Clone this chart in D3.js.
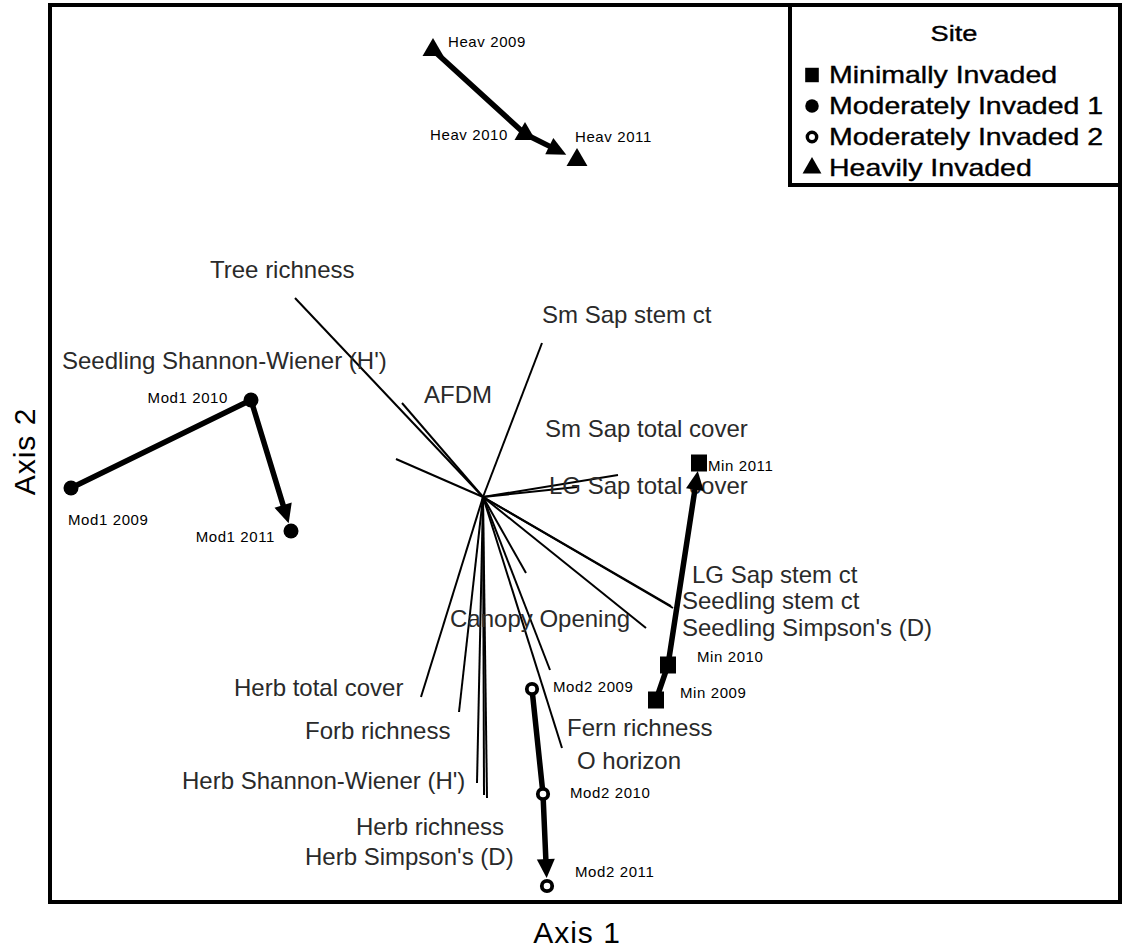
<!DOCTYPE html>
<html>
<head>
<meta charset="utf-8">
<script src="https://cdn.jsdelivr.net/npm/d3@7"></script>
<style>
  body { margin: 0; background: #fff; }
  svg { display: block; }
</style>
</head>
<body>
<svg id="chart" width="1125" height="952"></svg>
<script>
// ---- Site scores on the two ordination axes, one row per year ----
const years = [2009, 2010, 2011];
const siteNames = ["Minimally Invaded", "Moderately Invaded 1", "Moderately Invaded 2", "Heavily Invaded"];
const siteCodes = ["Min", "Mod1", "Mod2", "Heav"];
const minAxis1  = [0.865, 0.925, 1.08];
const minAxis2  = [-1.015, -0.84, 0.17];
const mod1Axis1 = [-2.06, -1.16, -0.96];
const mod1Axis2 = [0.045, 0.485, -0.17];
const mod2Axis1 = [0.245, 0.30, 0.32];
const mod2Axis2 = [-0.96, -1.485, -1.945];
const heavAxis1 = [-0.25, 0.21, 0.47];
const heavAxis2 = [2.235, 1.815, 1.685];

// ---- Environmental / vegetation vectors (biplot loadings) ----
const vectorNames = [
  "Tree richness", "Seedling Shannon-Wiener (H')", "AFDM", "Sm Sap stem ct",
  "Sm Sap total cover", "LG Sap total cover", "LG Sap stem ct", "Seedling stem ct",
  "Seedling Simpson's (D)", "Canopy Opening", "Herb total cover", "Forb richness",
  "Fern richness", "O horizon", "Herb Shannon-Wiener (H')", "Herb richness",
  "Herb Simpson's (D)"
];
const vectorAxis1 = [-0.94, -0.435, -0.405, 0.295, 0.675, 0.47, 0.95, 0.94,
                     0.815, 0.215, -0.31, -0.12, 0.335, 0.395, -0.03, 0.02, 0.005];
const vectorAxis2 = [0.995, 0.19, 0.47, 0.77, 0.11, 0.05, -0.555, -0.545,
                     -0.655, -0.38, -1.0, -1.075, -0.865, -1.255, -1.43, -1.505, -1.49];

// ---- Layout ----
const frame = { left: 50, top: 5, right: 1120, bottom: 902 };
const FONT = "'Liberation Sans', Arial, sans-serif";

// label placement relative to vector tip (px)
const vectorLabelOffset = [
  [-85, -20], [-334, -90], [22, 0], [0, -20], [-73, -38], [-28, 7], [19, -25], [11, 3],
  [36, 8], [-76, 54], [-187, -1], [-154, 27], [17, 66], [15, 21], [-295, 6], [-131, 37], [-179, 70]
];
// label placement relative to each site point (px) and anchor
const siteLabelOffset = {
  Min:  [[24, -2, "start"], [29, -3, "start"], [9, 8, "start"]],
  Mod1: [[-3, 37, "start"], [-23, 3, "end"], [-16, 11, "end"]],
  Mod2: [[21, 3, "start"], [27, 4, "start"], [28, -9, "start"]],
  Heav: [[15, -3, "start"], [-17, 6, "end"], [-2, -18, "start"]]
};

const svg = d3.select("#chart");

const x = d3.scaleLinear().domain([-2.165, 3.185]).range([frame.left, frame.right]);
const y = d3.scaleLinear().domain([-2.025, 2.46]).range([frame.bottom, frame.top]);

// ---- Vectors from the origin ----
const vectors = vectorNames.map((n, i) => ({ name: n, a1: vectorAxis1[i], a2: vectorAxis2[i], off: vectorLabelOffset[i] }));

const gv = svg.append("g");
gv.selectAll("line").data(vectors).join("line")
  .attr("x1", x(0)).attr("y1", y(0))
  .attr("x2", d => x(d.a1)).attr("y2", d => y(d.a2))
  .attr("stroke", "#000").attr("stroke-width", 2);

gv.selectAll("text").data(vectors).join("text")
  .attr("x", d => x(d.a1) + d.off[0])
  .attr("y", d => y(d.a2) + d.off[1])
  .attr("font-family", FONT).attr("font-size", 24)
  .attr("fill", "#2a2a2a")
  .text(d => d.name);

// ---- Site trajectories ----
const sites = [
  { code: "Min",  a1: minAxis1,  a2: minAxis2,  shape: "square" },
  { code: "Mod1", a1: mod1Axis1, a2: mod1Axis2, shape: "circle" },
  { code: "Mod2", a1: mod2Axis1, a2: mod2Axis2, shape: "ring" },
  { code: "Heav", a1: heavAxis1, a2: heavAxis2, shape: "triangle" }
];

function drawMarker(g, shape, cx, cy, s) {
  if (shape === "square") {
    g.append("rect").attr("x", cx - 8 * s).attr("y", cy - 8.5 * s)
      .attr("width", 16 * s).attr("height", 17 * s).attr("fill", "#000");
  } else if (shape === "circle") {
    g.append("circle").attr("cx", cx).attr("cy", cy).attr("r", 7.5 * s).attr("fill", "#000");
  } else if (shape === "ring") {
    g.append("circle").attr("cx", cx).attr("cy", cy).attr("r", 5.2 * s)
      .attr("fill", "#fff").attr("stroke", "#000").attr("stroke-width", 3.8 * s);
  } else {
    g.append("path").attr("transform", `translate(${cx},${cy})`)
      .attr("d", d3.symbol(d3.symbolTriangle, 190 * s * s)()).attr("fill", "#000");
  }
}

const gt = svg.append("g");
sites.forEach(site => {
  const pts = years.map((yr, i) => [x(site.a1[i]), y(site.a2[i])]);
  const gap = site.shape === "triangle" ? 12 : 8;
  const p1 = pts[1], p2 = pts[2];
  const dx = p2[0] - p1[0], dy = p2[1] - p1[1];
  const len = Math.hypot(dx, dy);
  const ux = dx / len, uy = dy / len, nx = -uy, ny = ux;
  const tip = [p2[0] - ux * gap, p2[1] - uy * gap];
  const headL = 19, headW = 9;
  const base = [tip[0] - ux * headL, tip[1] - uy * headL];

  gt.append("path")
    .attr("d", d3.line()([pts[0], pts[1], base]))
    .attr("fill", "none").attr("stroke", "#000")
    .attr("stroke-width", 5.5).attr("stroke-linejoin", "round").attr("stroke-linecap", "round");
  gt.append("path")
    .attr("d", d3.line()([tip, [base[0] + nx * headW, base[1] + ny * headW], [base[0] - nx * headW, base[1] - ny * headW]]) + "Z")
    .attr("fill", "#000");

  pts.forEach((p, i) => {
    drawMarker(gt, site.shape, p[0], p[1], 1);
    const o = siteLabelOffset[site.code][i];
    gt.append("text")
      .attr("x", p[0] + o[0]).attr("y", p[1] + o[1])
      .attr("text-anchor", o[2])
      .attr("font-family", FONT).attr("font-size", 15)
      .attr("letter-spacing", 0.6)
      .attr("fill", "#000")
      .text(`${site.code} ${years[i]}`);
  });
});

// ---- Plot frame ----
svg.append("rect")
  .attr("x", frame.left).attr("y", frame.top)
  .attr("width", frame.right - frame.left).attr("height", frame.bottom - frame.top)
  .attr("fill", "none").attr("stroke", "#000").attr("stroke-width", 4);

// ---- Axis titles ----
svg.append("text")
  .attr("x", (frame.left + frame.right) / 2 - 8).attr("y", 943)
  .attr("text-anchor", "middle")
  .attr("font-family", FONT).attr("font-size", 30).attr("letter-spacing", 1)
  .text("Axis 1");
svg.append("text")
  .attr("transform", `translate(35,${(frame.top + frame.bottom) / 2 - 2}) rotate(-90)`)
  .attr("text-anchor", "middle")
  .attr("font-family", FONT).attr("font-size", 30).attr("letter-spacing", 1)
  .text("Axis 2");

// ---- Legend ----
const lg = svg.append("g");
const legendBox = { x: 790, y: frame.top, w: frame.right - 790, h: 180 };
lg.append("rect")
  .attr("x", legendBox.x).attr("y", legendBox.y)
  .attr("width", legendBox.w).attr("height", legendBox.h)
  .attr("fill", "#fff").attr("stroke", "#000").attr("stroke-width", 4);
const stretch = 1.24;
lg.append("text")
  .attr("transform", `translate(954,41) scale(${stretch},1)`)
  .attr("text-anchor", "middle")
  .attr("font-family", FONT).attr("font-size", 22)
  .attr("stroke", "#000").attr("stroke-width", 0.35)
  .text("Site");
const rowBase = [83, 114, 145, 176];
sites.forEach((site, i) => {
  drawMarker(lg, site.shape, 812, rowBase[i] - 8, site.shape === "square" ? 0.85 : 0.9);
  lg.append("text")
    .attr("transform", `translate(829,${rowBase[i]}) scale(${stretch},1)`)
    .attr("font-family", FONT).attr("font-size", 23)
    .attr("fill", "#000").attr("stroke", "#000").attr("stroke-width", 0.35)
    .text(siteNames[i]);
});
</script>
</body>
</html>
